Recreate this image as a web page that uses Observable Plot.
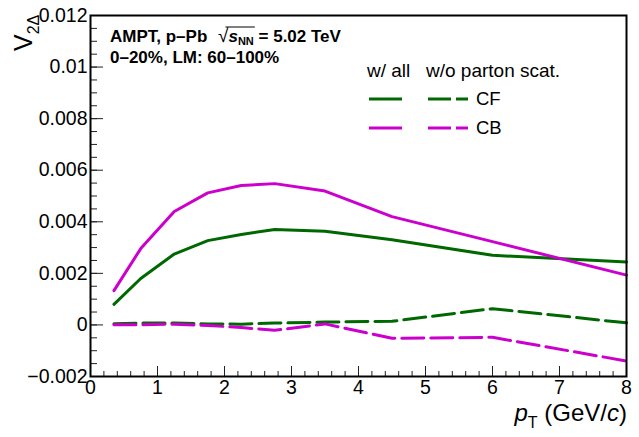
<!DOCTYPE html>
<html>
<head>
<meta charset="utf-8">
<script src="https://cdn.jsdelivr.net/npm/d3@7"></script>
<script src="https://cdn.jsdelivr.net/npm/@observablehq/plot@0.6"></script>
<style>
  html, body { margin: 0; padding: 0; background: #fff; }
  #chart svg { display: block; }
</style>
</head>
<body>
<div id="chart"></div>
<script>
// ---- data ----
const pT = [0.35, 0.75, 1.25, 1.75, 2.25, 2.75, 3.5, 4.5, 6.0, 8.0];
const cfAll = [0.00080, 0.00180, 0.00275, 0.00327, 0.00351, 0.00370, 0.00363, 0.00330, 0.00270, 0.00244];
const cbAll = [0.00133, 0.00296, 0.00440, 0.00512, 0.00541, 0.00548, 0.00519, 0.00420, 0.00323, 0.00193];
const cfNoParton = [0.00005, 0.00007, 0.00007, 0.00004, 0.00003, 0.00007, 0.00011, 0.00014, 0.00063, 0.00008];
const cbNoParton = [0.00001, 0.00001, 0.00003, -0.00002, -0.00010, -0.00021, 0.00004, -0.00052, -0.00048, -0.00140];

const xMajor = [0, 1, 2, 3, 4, 5, 6, 7, 8];
const xMinor = d3.range(0, 8.0001, 0.2);
const yMajor = [-0.002, 0, 0.002, 0.004, 0.006, 0.008, 0.01, 0.012];
const yMinor = d3.range(-0.002, 0.01201, 0.0005);

const GREEN = "#006800";
const MAGENTA = "#cc00cc";

const W = 639, H = 437;
const mL = 90, mR = 13, mT = 15, mB = 61;
const plotW = W - mL - mR, plotH = H - mT - mB;

const toRows = (ys) => pT.map((x, i) => ({x, y: ys[i]}));
const fmtY = d => {
  const s = String(+d.toFixed(4));
  return s.replace("-", "\u2212");
};

const chart = Plot.plot({
  width: W,
  height: H,
  marginLeft: mL,
  marginRight: mR,
  marginTop: mT,
  marginBottom: mB,
  style: {fontFamily: "'Liberation Sans', Arial, sans-serif", background: "#fff"},
  x: {domain: [0, 8], label: null},
  y: {domain: [-0.002, 0.012], label: null},
  marks: [
    // inner ticks
    Plot.ruleY(yMinor, {y: d => d, insetRight: plotW - 7, stroke: "#222", strokeWidth: 1}),
    Plot.ruleY(yMajor, {y: d => d, insetRight: plotW - 13, stroke: "#222", strokeWidth: 1}),
    Plot.ruleX(xMinor, {x: d => d, insetTop: plotH - 5, stroke: "#222", strokeWidth: 1}),
    Plot.ruleX(xMajor, {x: d => d, insetTop: plotH - 10, stroke: "#222", strokeWidth: 1}),
    // data lines
    Plot.line(toRows(cfAll), {x: "x", y: "y", stroke: GREEN, strokeWidth: 3}),
    Plot.line(toRows(cbAll), {x: "x", y: "y", stroke: MAGENTA, strokeWidth: 3}),
    Plot.line(toRows(cfNoParton), {x: "x", y: "y", stroke: GREEN, strokeWidth: 3, strokeDasharray: "22,7"}),
    Plot.line(toRows(cbNoParton), {x: "x", y: "y", stroke: MAGENTA, strokeWidth: 3, strokeDasharray: "22,7"}),
    // axes
    Plot.axisY(yMajor, {tickSize: 0, tickPadding: 3, fontSize: 19.5, tickFormat: fmtY, fill: "#000", label: null}),
    Plot.axisX(xMajor, {tickSize: 0, tickPadding: 4, fontSize: 19.5, tickFormat: d => String(d), fill: "#000", label: null}),
    Plot.frame({stroke: "#000", strokeWidth: 2})
  ]
});

document.getElementById("chart").appendChild(chart);

// ---- annotations (text / legend) ----
const svg = d3.select(chart);
const g = svg.append("g")
  .attr("font-family", "'Liberation Sans', Arial, sans-serif")
  .attr("text-anchor", "start")
  .attr("fill", "#000");

// X-axis title
const xt = g.append("text")
  .attr("x", 627).attr("y", 421)
  .attr("text-anchor", "end")
  .attr("font-size", 24);
xt.append("tspan").attr("font-style", "italic").text("p");
xt.append("tspan").attr("font-size", 16).attr("dy", 7).text("T");
xt.append("tspan").attr("dy", -7).text(" (GeV/");
xt.append("tspan").attr("font-style", "italic").text("c");
xt.append("tspan").text(")");

// Y-axis title
const yt = g.append("text")
  .attr("transform", "translate(32,51) rotate(-90)")
  .attr("text-anchor", "start")
  .attr("font-size", 25);
yt.append("tspan").text("V");
yt.append("tspan").attr("font-size", 16).attr("dy", 7).text("2\u0394");

// Info text
const t1 = g.append("text")
  .attr("x", 110).attr("y", 42)
  .attr("font-size", 17).attr("font-weight", "bold");
t1.append("tspan").text("AMPT, p\u2013Pb ");
t1.append("tspan").attr("font-weight", "normal").attr("font-size", 19).attr("dx", 6).text("\u221A");
t1.append("tspan").attr("font-style", "italic").text("s");
t1.append("tspan").attr("font-size", 11).attr("dy", 3).text("NN");
t1.append("tspan").attr("dy", -3).text(" = 5.02 TeV");

// overline for sqrt, computed from text geometry
const tnode = t1.node();
try {
  const sIdx = "AMPT, p\u2013Pb ".length + 1; // index of 's'
  const startS = tnode.getStartPositionOfChar(sIdx);
  const endNN = tnode.getEndPositionOfChar(sIdx + 2);
  g.append("line")
    .attr("x1", startS.x - 3).attr("x2", endNN.x + 1)
    .attr("y1", 27).attr("y2", 27)
    .attr("stroke", "#000").attr("stroke-width", 1);
} catch (e) {}

g.append("text")
  .attr("x", 110).attr("y", 63)
  .attr("font-size", 17).attr("font-weight", "bold")
  .text("0\u201320%, LM: 60\u2013100%");

// Legend
g.append("text").attr("x", 367).attr("y", 77).attr("font-size", 19).text("w/ all");
g.append("text").attr("x", 426).attr("y", 77).attr("font-size", 19).text("w/o parton scat.");

const legendRows = [
  {label: "CF", color: GREEN, y: 99},
  {label: "CB", color: MAGENTA, y: 128}
];
legendRows.forEach(r => {
  g.append("line").attr("x1", 369).attr("x2", 402).attr("y1", r.y).attr("y2", r.y)
    .attr("stroke", r.color).attr("stroke-width", 3);
  g.append("line").attr("x1", 428).attr("x2", 468).attr("y1", r.y).attr("y2", r.y)
    .attr("stroke", r.color).attr("stroke-width", 3).attr("stroke-dasharray", "23,5");
  g.append("text").attr("x", 476).attr("y", r.y + 6).attr("font-size", 18.5).text(r.label);
});
</script>
</body>
</html>
